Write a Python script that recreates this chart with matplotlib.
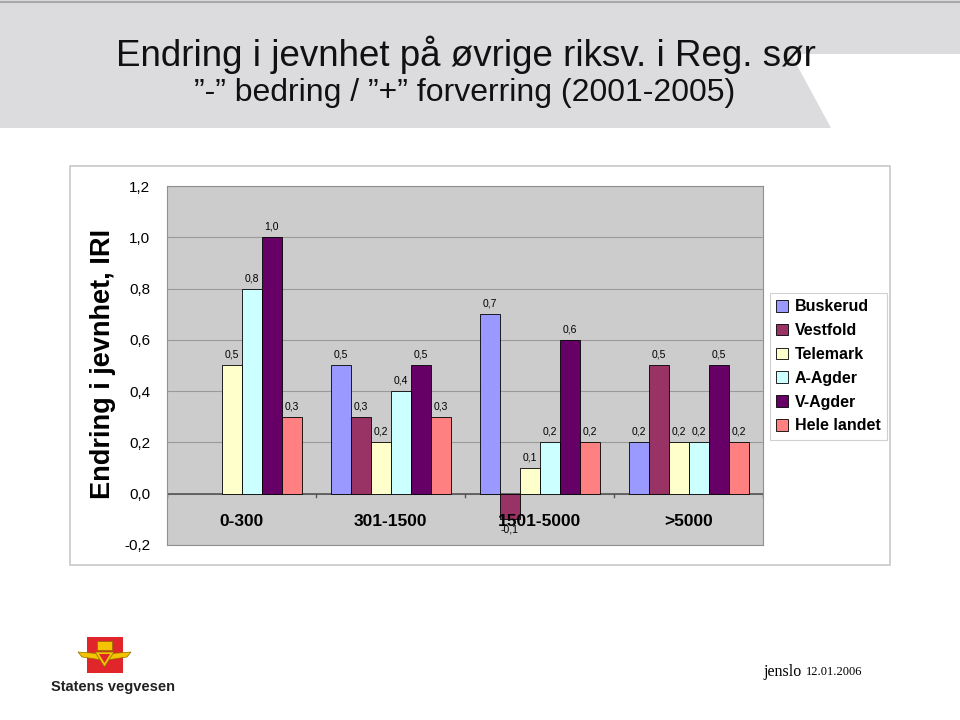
import numpy as np
import matplotlib
matplotlib.use("Agg")
import matplotlib.pyplot as plt
from matplotlib.patches import Polygon, Rectangle

W, H = 960, 720

categories = ["0-300", "301-1500", "1501-5000", ">5000"]
series = ["Buskerud", "Vestfold", "Telemark", "A-Agder", "V-Agder", "Hele landet"]
buskerud = [np.nan, 0.5, 0.7, 0.2]
vestfold = [np.nan, 0.3, -0.1, 0.5]
telemark = [0.5, 0.2, 0.1, 0.2]
a_agder = [0.8, 0.4, 0.2, 0.2]
v_agder = [1.0, 0.5, 0.6, 0.5]
hele_landet = [0.3, 0.3, 0.2, 0.2]
values = [buskerud, vestfold, telemark, a_agder, v_agder, hele_landet]
yticks = [-0.2, 0.0, 0.2, 0.4, 0.6, 0.8, 1.0, 1.2]

COLOURS = ["#9999ff", "#993366", "#ffffcc", "#ccffff", "#660066", "#ff8080"]


def fx(px):
    return px / W


def fy(py):
    return 1 - py / H


def comma(v):
    return "{:.1f}".format(v).replace(".", ",")


fig = plt.figure(figsize=(9.6, 7.2), dpi=100)
plt.rcParams["font.family"] = ["Liberation Sans", "DejaVu Sans"]

# grey header band with the notch on the right
band = [(0, 0), (W, 0), (W, 54), (791, 54), (831, 128), (0, 128)]
fig.patches.append(Polygon([(fx(x), fy(y)) for x, y in band], closed=True,
                           transform=fig.transFigure, facecolor="#dcdcde",
                           edgecolor="none", zorder=-2))
fig.add_artist(plt.Line2D([0, 1], [fy(1.5), fy(1.5)], transform=fig.transFigure,
                          color="#a8a8a8", linewidth=1.5, zorder=-1))

fig.text(fx(466), fy(55), "Endring i jevnhet på øvrige riksv. i Reg. sør",
         ha="center", va="center", fontsize=26.5, color="#111111")
fig.text(fx(465), fy(93), "\u201d-\u201d bedring / \u201d+\u201d forverring (2001-2005)",
         ha="center", va="center", fontsize=23, color="#111111")

# chart frame
fig.patches.append(Rectangle((fx(70), fy(565)), fx(820), (565 - 166) / H,
                             transform=fig.transFigure, facecolor="white",
                             edgecolor="#c8c8c8", linewidth=1.2, zorder=-2))

ax = fig.add_axes([fx(167), fy(545), fx(763 - 167), (545 - 186) / H])
ax.set_facecolor("#cccccc")

x = np.arange(len(categories))
w = 20 / 149
for i, (name, vals) in enumerate(zip(series, values)):
    bars = ax.bar(x + (i - 2.5) * w, vals, w, color=COLOURS[i], edgecolor="black",
                  linewidth=0.6, label=name, zorder=3)
    labels = ["" if np.isnan(v) else comma(v) for v in vals]
    ax.bar_label(bars, labels=labels, padding=4, fontsize=7.5, zorder=4)

ax.set_xlim(-0.5, 3.5)
ax.set_ylim(-0.2, 1.2)
ax.set_yticks(yticks)
ax.set_yticklabels([comma(v) for v in yticks], fontsize=11)
ax.tick_params(axis="y", length=0, pad=12)
ax.grid(axis="y", color="#9a9a9a", linewidth=0.8, zorder=1)
ax.set_axisbelow(True)
ax.axhline(0, color="#555555", linewidth=1.2, zorder=2)
ax.set_xticks([])
for b in np.arange(-0.5, 4, 1.0):
    ax.plot([b, b], [0, -0.012], color="#555555", linewidth=1, zorder=2)
for xi, cat in zip(x, categories):
    ax.text(xi, -0.11, cat, ha="center", va="center", fontsize=12.5,
            fontweight="bold", zorder=5)
for s in ax.spines.values():
    s.set_color("#909090")
    s.set_linewidth(0.8)

fig.text(fx(103), fy(364), "Endring i jevnhet, IRI", rotation=90, ha="center",
         va="center", fontsize=19.5, fontweight="bold")

leg = ax.legend(loc="upper left", bbox_to_anchor=(fx(770), fy(293)),
                bbox_transform=fig.transFigure, borderaxespad=0, fancybox=False,
                prop={"size": 11.5, "weight": "bold"}, handlelength=0.75,
                handleheight=0.75, handletextpad=0.4, labelspacing=0.55,
                borderpad=0.4, framealpha=1)
leg.get_frame().set_edgecolor("#d0d0d0")
leg.get_frame().set_linewidth(0.8)

# Statens vegvesen logo
fig.patches.append(Rectangle((fx(87), fy(673)), fx(36), (673 - 637) / H,
                             transform=fig.transFigure, facecolor="#e0262a",
                             edgecolor="none"))
gold = "#f5c400"
wing_l = [(78, 652), (104, 654), (102, 660), (82, 657)]
wing_r = [(131, 652), (105, 654), (107, 660), (127, 657)]
tri = [(95, 652), (114, 652), (104.5, 667)]
crown = [(97, 641), (112, 641), (112, 650), (97, 650)]
for poly in (wing_l, wing_r, tri, crown):
    fig.patches.append(Polygon([(fx(a), fy(b)) for a, b in poly], closed=True,
                               transform=fig.transFigure, facecolor=gold,
                               edgecolor="#8a6d00", linewidth=0.5))
fig.patches.append(Polygon([(fx(a), fy(b)) for a, b in [(99, 654), (110, 654), (104.5, 663)]],
                           closed=True, transform=fig.transFigure,
                           facecolor="#e0262a", edgecolor="none"))
fig.text(fx(51), fy(687), "Statens vegvesen", ha="left", va="center",
         fontsize=10.5, fontweight="bold", color="#222222")

fig.text(fx(763), fy(672), "jenslo", ha="left", va="center", fontsize=11.5,
         family=["Liberation Serif", "DejaVu Serif"])
fig.text(fx(806), fy(672), "12.01.2006", ha="left", va="center", fontsize=9,
         family=["Liberation Serif", "DejaVu Serif"])

fig.savefig("out.png", dpi=100)
